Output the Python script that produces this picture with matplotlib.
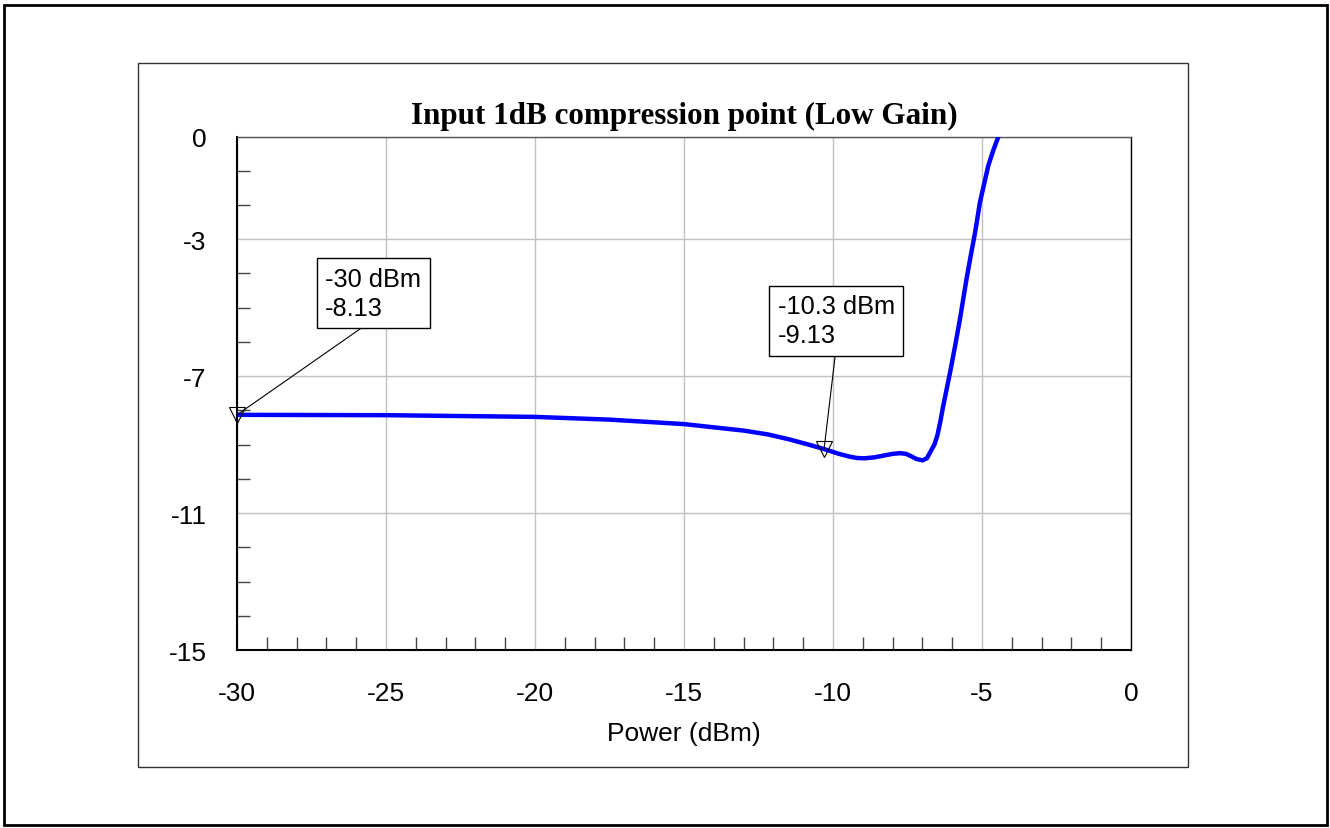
import numpy as np
import matplotlib
matplotlib.use("Agg")
import matplotlib.pyplot as plt
from matplotlib.patches import Rectangle
from matplotlib.ticker import FixedLocator

plt.rcParams['font.family'] = ['Liberation Sans', 'DejaVu Sans']

# curve (Power in dBm vs gain in dB)
power = [-30, -25, -20, -17.5, -15, -13, -12.2, -11.5, -10.9, -10.3, -9.8,
         -9.45, -9.2, -8.95, -8.6, -8.3, -8.0, -7.75, -7.55, -7.4, -7.2,
         -7.0, -6.85, -6.7, -6.6, -6.5, -6.4, -6.3, -6.07, -5.9, -5.74,
         -5.52, -5.4, -5.23, -5.07, -4.92, -4.79, -4.62, -4.45, -4.2]
gain = [-8.13, -8.14, -8.19, -8.27, -8.40, -8.59, -8.70, -8.84, -8.98, -9.13,
        -9.27, -9.35, -9.39, -9.40, -9.37, -9.32, -9.27, -9.25, -9.27, -9.33,
        -9.42, -9.46, -9.40, -9.16, -9.00, -8.74, -8.33, -7.86, -6.88, -6.10,
        -5.33, -4.16, -3.58, -2.79, -1.92, -1.35, -0.85, -0.40, 0.0, 0.8]

# markers and their callout boxes (top-left corner of text, data units)
mark_power = [-30, -10.3]
mark_gain = [-8.13, -9.13]
box_x = [-27.04, -11.86]
box_y = [-3.80, -4.61]

x_major = [-30, -25, -20, -15, -10, -5, 0]
y_major = [0, -3, -7, -11, -15]

fig = plt.figure(figsize=(13.3, 8.29), dpi=100)
ax = fig.add_axes([0.1782, 0.2147, 0.6722, 0.6194])

ax.plot(power, gain, color='#0000ff', lw=3.2, solid_joinstyle='round',
        solid_capstyle='butt', zorder=3)

ax.plot(mark_power, mark_gain, ls='none', marker='v', ms=11, mfc='none',
        mec='black', mew=0.8, clip_on=False, zorder=5)

for px, gy, tx, ty in zip(mark_power, mark_gain, box_x, box_y):
    ax.annotate("%g dBm\n%.2f" % (px, gy), xy=(px, gy), xytext=(tx, ty),
                textcoords='data', ha='left', va='top', fontsize=18.3,
                linespacing=1.27,
                bbox=dict(boxstyle='square,pad=0.33', fc='white', ec='black',
                          lw=1),
                arrowprops=dict(arrowstyle='-', color='black', lw=0.8,
                                relpos=(0.5, 0), shrinkA=0, shrinkB=0),
                zorder=6)

ax.set_xlim(-30, 0)
ax.set_ylim(-15, 0)
ax.xaxis.set_major_locator(FixedLocator(x_major))
ax.yaxis.set_major_locator(FixedLocator(y_major))
ax.xaxis.set_minor_locator(FixedLocator([v for v in range(-29, 0) if v % 5]))
ax.yaxis.set_minor_locator(FixedLocator([v for v in range(-14, 0) if v not in y_major]))
ax.set_xticklabels([str(v) for v in x_major])
ax.set_yticklabels([str(v) for v in y_major])

ax.tick_params(which='major', length=0, labelsize=19, pad=22)
ax.tick_params(axis='y', which='major', pad=22)
ax.tick_params(which='minor', direction='in', length=9.5, width=1,
               color='#444444')
ax.grid(True, which='major', color='#c0c0c0', lw=1)
ax.set_axisbelow(True)

for side in ['left', 'bottom']:
    ax.spines[side].set_linewidth(1.5)
    ax.spines[side].set_color('black')
ax.spines['right'].set_linewidth(1)
ax.spines['top'].set_linewidth(1)
ax.spines['top'].set_color('#555555')

ax.set_xlabel("Power (dBm)", fontsize=19, labelpad=12)
ax.set_title("Input 1dB compression point (Low Gain)", fontsize=22.4,
             fontweight='bold', family=['Liberation Serif', 'DejaVu Serif'],
             pad=10)

# inner frame and outer border
W, H = 1330, 829
fig.add_artist(Rectangle((138 / W, 1 - 768 / H), (1188 - 138) / W,
                         (768 - 64) / H, transform=fig.transFigure,
                         fill=False, ec='#333333', lw=1))
fig.add_artist(Rectangle((4 / W, 1 - 826 / H), (1327 - 4) / W,
                         (826 - 6) / H, transform=fig.transFigure,
                         fill=False, ec='black', lw=2))

fig.savefig("out.png", dpi=100, facecolor='white')
